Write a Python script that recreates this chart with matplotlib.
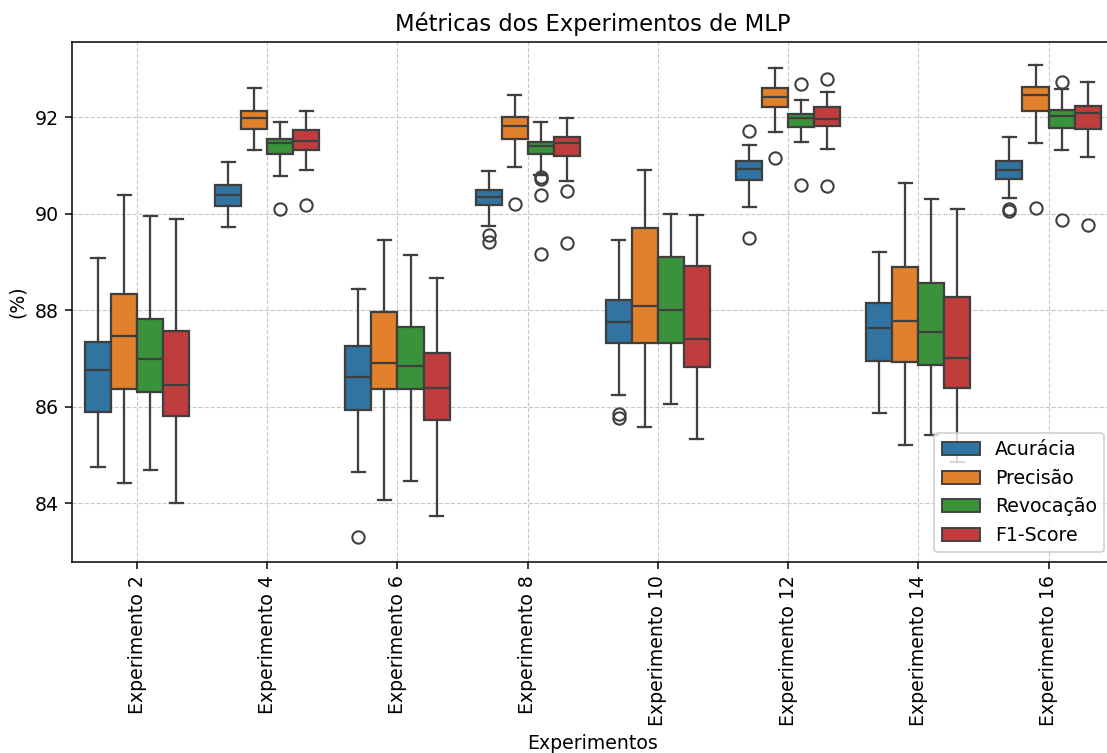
import matplotlib.pyplot as plt
from matplotlib.patches import Patch

experimentos = ["Experimento 2", "Experimento 4", "Experimento 6", "Experimento 8",
                "Experimento 10", "Experimento 12", "Experimento 14", "Experimento 16"]
metricas = ["Acurácia", "Precisão", "Revocação", "F1-Score"]

# (whisker low, q1, median, q3, whisker high) per experiment
acuracia = [
    (84.75, 85.90, 86.76, 87.35, 89.09),
    (89.73, 90.17, 90.40, 90.59, 91.07),
    (84.64, 85.93, 86.62, 87.27, 88.44),
    (89.75, 90.18, 90.35, 90.50, 90.88),
    (86.24, 87.32, 87.76, 88.21, 89.45),
    (90.15, 90.71, 90.93, 91.09, 91.43),
    (85.88, 86.96, 87.64, 88.16, 89.22),
    (90.34, 90.73, 90.91, 91.09, 91.59),
]
precisao = [
    (84.42, 86.38, 87.46, 88.35, 90.40),
    (91.33, 91.77, 91.98, 92.13, 92.61),
    (84.08, 86.38, 86.91, 87.96, 89.45),
    (90.98, 91.55, 91.83, 92.01, 92.47),
    (85.59, 87.32, 88.09, 89.70, 90.91),
    (91.69, 92.22, 92.42, 92.61, 93.02),
    (85.20, 86.93, 87.78, 88.89, 90.65),
    (91.47, 92.14, 92.47, 92.63, 93.09),
]
revocacao = [
    (84.70, 86.30, 86.99, 87.82, 89.95),
    (90.79, 91.24, 91.46, 91.56, 91.91),
    (84.47, 86.38, 86.85, 87.66, 89.14),
    (90.80, 91.25, 91.40, 91.50, 91.91),
    (86.07, 87.32, 88.00, 89.11, 90.00),
    (91.50, 91.80, 91.99, 92.07, 92.36),
    (85.42, 86.86, 87.55, 88.57, 90.31),
    (91.32, 91.79, 92.02, 92.15, 92.59),
]
f1_score = [
    (84.00, 85.82, 86.46, 87.57, 89.90),
    (90.91, 91.33, 91.52, 91.74, 92.13),
    (83.74, 85.73, 86.39, 87.12, 88.67),
    (90.68, 91.21, 91.47, 91.59, 91.99),
    (85.33, 86.83, 87.41, 88.92, 89.98),
    (91.35, 91.83, 91.97, 92.21, 92.52),
    (84.85, 86.40, 87.02, 88.27, 90.10),
    (91.18, 91.77, 92.09, 92.24, 92.74),
]

# outliers per experiment
acuracia_out = [[], [], [83.31], [89.57, 89.41], [85.85, 85.76], [91.71, 89.50], [], [90.10, 90.06]]
precisao_out = [[], [], [], [90.21], [], [91.16], [], [90.13]]
revocacao_out = [[], [90.10], [], [90.77, 90.73, 90.40, 89.17], [], [92.69, 90.59], [], [92.74, 89.87]]
f1_score_out = [[], [90.18], [], [90.48, 89.39], [], [92.80, 90.57], [], [89.77]]

cores = ["#3274a1", "#e1812c", "#3a923a", "#c03d3e"]
linha = "#3f3f3f"

dpi = 136
fig = plt.figure(figsize=(1107 / dpi, 753 / dpi), dpi=dpi)
# the right side of the axes runs past the figure edge, as in the cropped original
ax = fig.add_axes([0.065, 0.254, 0.941, 0.690])

series = [(acuracia, acuracia_out), (precisao, precisao_out),
          (revocacao, revocacao_out), (f1_score, f1_score_out)]

for j, (valores, outliers) in enumerate(series):
    stats = []
    for (lo, q1, med, q3, hi), fl in zip(valores, outliers):
        stats.append({"whislo": lo, "q1": q1, "med": med, "q3": q3, "whishi": hi, "fliers": fl})
    pos = [i + (j - 1.5) * 0.2 for i in range(len(experimentos))]
    ax.bxp(stats, positions=pos, widths=0.2, patch_artist=True, manage_ticks=False,
           boxprops=dict(facecolor=cores[j], edgecolor=linha, linewidth=1.2),
           medianprops=dict(color=linha, linewidth=1.2),
           whiskerprops=dict(color=linha, linewidth=1.2),
           capprops=dict(color=linha, linewidth=1.2),
           flierprops=dict(marker="o", markerfacecolor="none", markeredgecolor=linha,
                           markersize=6.5, markeredgewidth=1.1),
           capwidths=0.1)

ax.set_xticks(range(len(experimentos)))
ax.set_xticklabels(experimentos, rotation=90)
ax.set_xlim(-0.5, len(experimentos) - 0.5)
ax.set_ylim(82.79, 93.56)
ax.set_yticks([84, 86, 88, 90, 92])
ax.set_axisbelow(True)
ax.grid(True, linestyle="--", linewidth=0.6, color="#c8c8c8")

ax.set_title("Métricas dos Experimentos de MLP")
ax.set_xlabel("Experimentos")
ax.set_ylabel("(%)")

handles = [Patch(facecolor=c, edgecolor=linha, label=m) for c, m in zip(cores, metricas)]
ax.legend(handles=handles, loc="lower right")

fig.savefig("out.png", dpi=dpi)
